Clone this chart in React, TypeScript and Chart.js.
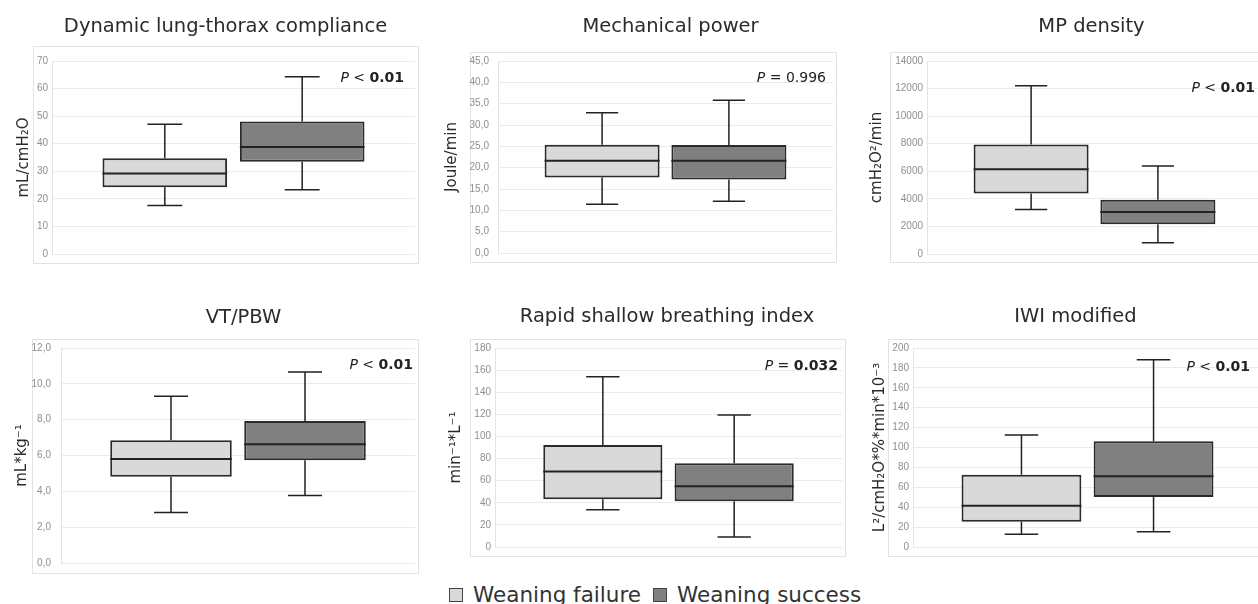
import React, { useEffect, useRef } from "react";
import { Chart, registerables } from "chart.js";

Chart.register(...registerables);

// ---------- data ----------
const GROUPS = ["Weaning failure", "Weaning success"];
const GROUP_COLORS = ["#d9d9d9", "#808080"];

const TITLES = [
  "Dynamic lung-thorax compliance",
  "Mechanical power",
  "MP density",
  "VT/PBW",
  "Rapid shallow breathing index",
  "IWI modified",
];
const Y_TITLES = [
  "mL/cmH₂O",
  "Joule/min",
  "cmH₂O²/min",
  "mL*kg⁻¹",
  "min⁻¹*L⁻¹",
  "L²/cmH₂O*%*min*10⁻³",
];
const Y_MAX = [70, 45, 14000, 12, 180, 200];
const Y_STEP = [10, 5, 2000, 2, 20, 20];
const Y_DECIMALS = [0, 1, 0, 1, 0, 0];

const P_RELATION = ["<", "=", "<", "<", "=", "<"];
const P_VALUE = ["0.01", "0.996", "0.01", "0.01", "0.032", "0.01"];
const P_BOLD = [true, false, true, true, true, true];

// five-number summaries: [min, q1, median, q3, max]
const COMPLIANCE_FAILURE = [17.6, 24.2, 29.2, 34.7, 47.1];
const COMPLIANCE_SUCCESS = [23.3, 33.5, 38.8, 48.1, 64.3];
const POWER_FAILURE = [11.4, 17.7, 21.6, 25.4, 32.9];
const POWER_SUCCESS = [12.1, 17.2, 21.6, 25.3, 35.8];
const DENSITY_FAILURE = [3230, 4380, 6150, 7950, 12200];
const DENSITY_SUCCESS = [820, 2150, 3040, 3930, 6380];
const VTPBW_FAILURE = [2.82, 4.82, 5.8, 6.85, 9.31];
const VTPBW_SUCCESS = [3.77, 5.73, 6.63, 7.93, 10.66];
const RSBI_FAILURE = [33.8, 43.1, 68.4, 92.3, 154];
const RSBI_SUCCESS = [9.0, 41.3, 54.9, 75.7, 119.4];
const IWI_FAILURE = [12.7, 25.5, 41.5, 72.7, 112.6];
const IWI_SUCCESS = [15.4, 50.3, 71.0, 106.2, 188.3];

const SUMMARIES = [
  [COMPLIANCE_FAILURE, COMPLIANCE_SUCCESS],
  [POWER_FAILURE, POWER_SUCCESS],
  [DENSITY_FAILURE, DENSITY_SUCCESS],
  [VTPBW_FAILURE, VTPBW_SUCCESS],
  [RSBI_FAILURE, RSBI_SUCCESS],
  [IWI_FAILURE, IWI_SUCCESS],
];

// ---------- layout (page pixels) ----------
const LAYOUT = [
  { cx: 15, cy: 0, ch: 290, left: 52, right: 415, top: 61, bottom: 254, bl: 19, bt: 15, bb: 9, tx: 225.5, ty: 32, pdx: -11, py: 78, tickPad: 4 },
  { cx: 443, cy: 0, ch: 290, left: 498, right: 833, top: 61, bottom: 253, bl: 28, bt: 9, bb: 9, tx: 670.5, ty: 32, pdx: -7, py: 78, tickPad: 9 },
  { cx: 868, cy: 0, ch: 290, left: 927, right: 1262, top: 61, bottom: 254, bl: 37, bt: 9, bb: 8, tx: 1091.5, ty: 32, pdx: -7, py: 88, tickPad: 4 },
  { cx: 13, cy: 290, ch: 290, left: 61, right: 415, top: 348, bottom: 563, bl: 29, bt: 9, bb: 10, tx: 243.5, ty: 323, pdx: -2, py: 365, tickPad: 10 },
  { cx: 447, cy: 290, ch: 290, left: 495, right: 842, top: 348, bottom: 547, bl: 25, bt: 9, bb: 9, tx: 667, ty: 322, pdx: -4, py: 366, tickPad: 4 },
  { cx: 871, cy: 290, ch: 290, left: 913, right: 1262, top: 348, bottom: 547, bl: 25, bt: 9, bb: 9, tx: 1075.5, ty: 322, pdx: -12, py: 367, tickPad: 4 },
];
const PAD_RIGHT = 8;
const FONT = "'DejaVu Sans', Verdana, sans-serif";
const TICK_FONT = "'Liberation Sans', Arial, sans-serif";

function makeDecorPlugin(i: number) {
  const L = LAYOUT[i];
  return {
    id: "boxDecor" + i,
    beforeDraw(chart: any) {
      const { ctx, chartArea } = chart;
      ctx.save();
      ctx.strokeStyle = "#e2e2e2";
      ctx.lineWidth = 1;
      const x0 = Math.round(chartArea.left - L.bl) + 0.5;
      const y0 = Math.round(chartArea.top - L.bt) + 0.5;
      const x1 = Math.round(chartArea.right + 3) + 0.5;
      const y1 = Math.round(chartArea.bottom + L.bb) + 0.5;
      ctx.strokeRect(x0, y0, x1 - x0, y1 - y0);
      ctx.restore();
    },
    afterDatasetsDraw(chart: any) {
      const { ctx } = chart;
      const y = chart.scales.y;
      ctx.save();
      ctx.strokeStyle = "#222";
      chart.data.datasets.forEach((ds: any, d: number) => {
        const el = chart.getDatasetMeta(d).data[0];
        if (!el) return;
        const { x, width } = el.getProps(["x", "width"], true);
        const [mn, q1, med, q3, mx] = ds.summary;
        const cap = width * 0.28;
        ctx.lineWidth = 1.5;
        ctx.beginPath();
        ctx.moveTo(x, y.getPixelForValue(q3));
        ctx.lineTo(x, y.getPixelForValue(mx));
        ctx.moveTo(x - cap / 2, y.getPixelForValue(mx));
        ctx.lineTo(x + cap / 2, y.getPixelForValue(mx));
        ctx.moveTo(x, y.getPixelForValue(q1));
        ctx.lineTo(x, y.getPixelForValue(mn));
        ctx.moveTo(x - cap / 2, y.getPixelForValue(mn));
        ctx.lineTo(x + cap / 2, y.getPixelForValue(mn));
        ctx.stroke();
        ctx.lineWidth = 2;
        ctx.beginPath();
        ctx.moveTo(x - width / 2, y.getPixelForValue(med));
        ctx.lineTo(x + width / 2, y.getPixelForValue(med));
        ctx.stroke();
      });
      ctx.restore();
    },
    afterDraw(chart: any) {
      const { ctx, chartArea } = chart;
      ctx.save();
      // panel title
      ctx.fillStyle = "#2b2b2b";
      ctx.font = `19.5px ${FONT}`;
      ctx.textAlign = "center";
      ctx.textBaseline = "alphabetic";
      ctx.fillText(TITLES[i], L.tx - L.cx, L.ty - L.cy);
      // p-value annotation, right aligned
      const parts = [
        { t: "P", f: `italic 14px ${FONT}` },
        { t: ` ${P_RELATION[i]} `, f: `14px ${FONT}` },
        { t: P_VALUE[i], f: `${P_BOLD[i] ? "bold " : ""}14px ${FONT}` },
      ];
      let total = 0;
      parts.forEach((p) => {
        ctx.font = p.f;
        total += ctx.measureText(p.t).width;
      });
      let px = chartArea.right + L.pdx - total;
      const py = L.py - L.cy;
      ctx.textAlign = "left";
      ctx.textBaseline = "middle";
      ctx.fillStyle = "#222";
      parts.forEach((p) => {
        ctx.font = p.f;
        ctx.fillText(p.t, px, py);
        px += ctx.measureText(p.t).width;
      });
      ctx.restore();
    },
  };
}

function Panel({ index }: { index: number }) {
  const ref = useRef<HTMLCanvasElement | null>(null);
  const L = LAYOUT[index];
  const width = L.right + PAD_RIGHT - L.cx;
  const height = L.ch;

  useEffect(() => {
    if (!ref.current) return;
    const summaries = SUMMARIES[index];
    const dec = Y_DECIMALS[index];
    const chart = new Chart(ref.current, {
      type: "bar",
      data: {
        labels: [""],
        datasets: GROUPS.map((g, d) => ({
          label: g,
          data: [[summaries[d][1], summaries[d][3]]],
          summary: summaries[d],
          backgroundColor: GROUP_COLORS[d],
          borderColor: "#2a2a2a",
          borderWidth: 2,
          borderSkipped: false,
          categoryPercentage: 0.757,
          barPercentage: 0.907,
        })) as any,
      },
      options: {
        animation: false,
        responsive: false,
        devicePixelRatio: 1,
        layout: {
          padding: {
            left: 0,
            right: PAD_RIGHT,
            top: L.top - L.cy,
            bottom: L.cy + L.ch - L.bottom,
          },
        },
        plugins: {
          legend: { display: false },
          tooltip: { enabled: false },
          title: { display: false },
        },
        scales: {
          x: { display: false, offset: true },
          y: {
            min: 0,
            max: Y_MAX[index],
            afterFit: (scale: any) => {
              scale.width = L.left - L.cx;
            },
            ticks: {
              stepSize: Y_STEP[index],
              padding: L.tickPad,
              color: "#8f8f8f",
              font: { family: TICK_FONT, size: 10 },
              callback: (v: any) => Number(v).toFixed(dec).replace(".", ","),
            },
            grid: { color: "#ebebeb", lineWidth: 1, drawTicks: false },
            border: { display: true, color: "#e4e4e4" },
            title: {
              display: true,
              text: Y_TITLES[index],
              color: "#2b2b2b",
              font: { family: FONT, size: 15, lineHeight: 1.2 },
              padding: { top: 0, bottom: 0 },
            },
          },
        },
      },
      plugins: [makeDecorPlugin(index)],
    } as any);
    return () => chart.destroy();
  }, [index]);

  return (
    <canvas
      ref={ref}
      width={width}
      height={height}
      style={{ position: "absolute", left: L.cx, top: L.cy, width, height }}
    />
  );
}

function Legend() {
  const sq = (c: string) => (
    <span
      style={{
        display: "inline-block",
        width: 12,
        height: 12,
        background: c,
        border: "1px solid #444",
        marginRight: 10,
      }}
    />
  );
  return (
    <div
      style={{
        position: "absolute",
        left: 449,
        top: 582,
        font: `21.5px ${FONT}`,
        lineHeight: "25px",
        color: "#333",
        whiteSpace: "nowrap",
      }}
    >
      {sq(GROUP_COLORS[0])}
      <span style={{ marginRight: 12 }}>{GROUPS[0]}</span>
      {sq(GROUP_COLORS[1])}
      <span>{GROUPS[1]}</span>
    </div>
  );
}

export default function App() {
  return (
    <div
      style={{
        position: "fixed",
        left: 0,
        top: 0,
        width: 1258,
        height: 604,
        overflow: "hidden",
        background: "#fff",
      }}
    >
      {LAYOUT.map((_, i) => (
        <Panel key={i} index={i} />
      ))}
      <Legend />
    </div>
  );
}
